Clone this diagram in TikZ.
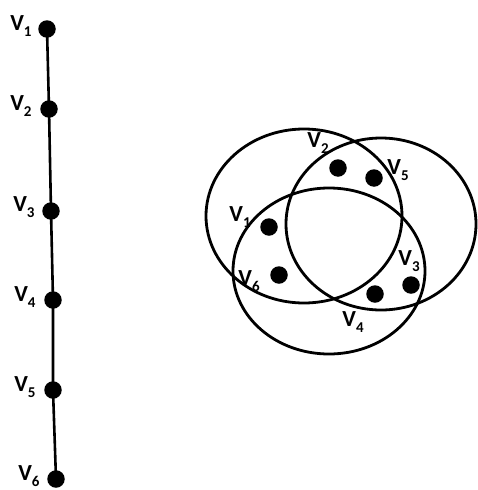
\documentclass[tikz,border=0pt]{standalone}
\usepackage{fontspec}
\setmainfont{Carlito}
\newcommand{\vl}[1]{V\raisebox{-0.28em}{\fontsize{15}{15}\selectfont #1}}
\begin{document}
\begin{tikzpicture}[x=1pt,y=-1pt,
  vdot/.style={circle,fill=black,inner sep=0pt,minimum size=17.5pt},
  vlab/.style={font=\bfseries\fontsize{23}{23}\selectfont,inner sep=0pt},
  ring/.style={draw=black,line width=2.8pt}]
\useasboundingbox (0,0) rectangle (477,490);
% left path
\node[vdot] (a1) at (47,29) {};
\node[vdot] (a2) at (49,109) {};
\node[vdot] (a3) at (51,211) {};
\node[vdot] (a4) at (53,300) {};
\node[vdot] (a5) at (53,390) {};
\node[vdot] (a6) at (56,479) {};
\draw[line width=2.6pt] (a1.center) -- (a2.center) -- (a3.center) -- (a4.center) -- (a5.center) -- (a6.center);
\node[vlab] (l1) at (21,26) {\vl{1}};
\node[vlab] (l2) at (21,106) {\vl{2}};
\node[vlab] (l3) at (24,207) {\vl{3}};
\node[vlab] (l4) at (25,297) {\vl{4}};
\node[vlab] (l5) at (25,387) {\vl{5}};
\node[vlab] (l6) at (29,476) {\vl{6}};
% hypergraph
\draw[ring] (304,216) ellipse [x radius=98, y radius=87];
\draw[ring] (381,224) ellipse [x radius=95, y radius=86];
\draw[ring] (329,271) ellipse [x radius=96, y radius=83];
\node[vdot] (b2) at (338,168) {};
\node[vdot] (b5) at (374,178) {};
\node[vdot] (b1) at (269,227) {};
\node[vdot] (b6) at (279,275) {};
\node[vdot] (b4) at (375,294) {};
\node[vdot] (b3) at (411,285) {};
\node[vlab] (m2) at (318,143) {\vl{2}};
\node[vlab] (m5) at (398,170) {\vl{5}};
\node[vlab] (m1) at (240,217) {\vl{1}};
\node[vlab] (m6) at (249,281) {\vl{6}};
\node[vlab] (m3) at (409,261) {\vl{3}};
\node[vlab] (m4) at (353,322) {\vl{4}};
\end{tikzpicture}
\end{document}
